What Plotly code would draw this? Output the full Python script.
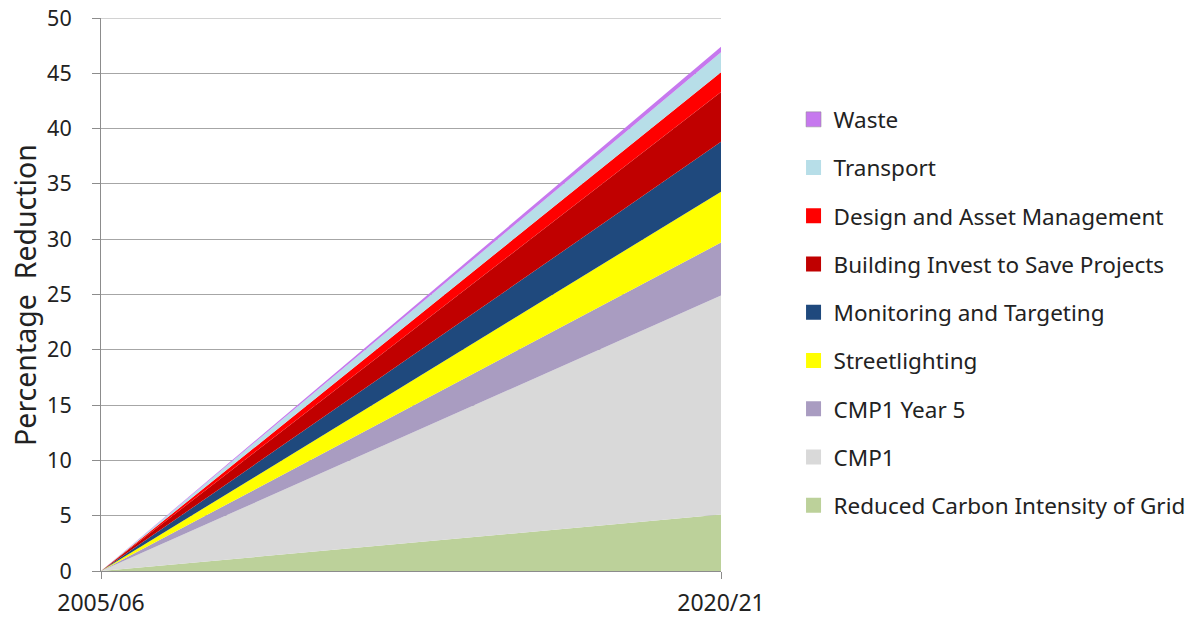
import plotly.graph_objects as go

years = ["2005/06", "2020/21"]
series_names = [
    "Reduced Carbon Intensity of Grid",
    "CMP1",
    "CMP1 Year 5",
    "Streetlighting",
    "Monitoring and Targeting",
    "Building Invest to Save Projects",
    "Design and Asset Management",
    "Transport",
    "Waste",
]
grid_vals = [0, 5.1]
cmp1_vals = [0, 19.8]
cmp1y5_vals = [0, 4.8]
street_vals = [0, 4.6]
monitor_vals = [0, 4.5]
building_vals = [0, 4.5]
design_vals = [0, 1.8]
transport_vals = [0, 1.8]
waste_vals = [0, 0.5]
series_values = [grid_vals, cmp1_vals, cmp1y5_vals, street_vals, monitor_vals,
                 building_vals, design_vals, transport_vals, waste_vals]
colors = ["#BCD19A", "#D9D9D9", "#A99CC1", "#FFFF00", "#1F497D",
          "#C00000", "#FF0000", "#B7DEE8", "#C678EE"]
y_max = 50

fig = go.Figure()
for name, vals, col in zip(series_names, series_values, colors):
    fig.add_trace(go.Scatter(
        x=years, y=vals, name=name, mode="none", stackgroup="one",
        fillcolor=col, showlegend=False,
    ))

# legend entries (square swatches), top to bottom
for name, col in reversed(list(zip(series_names, colors))):
    fig.add_trace(go.Scatter(
        x=[None], y=[None], name=name, mode="markers",
        marker=dict(symbol="square", size=15, color=col,
                    line=dict(width=0.5, color="#8C8C8C") if name == "Waste" else dict(width=0)),
        legendgroup=name, showlegend=True,
    ))

# top gridline (at the edge of the plot area)
fig.add_shape(type="line", xref="x domain", x0=0, x1=1, yref="y",
              y0=y_max, y1=y_max, line=dict(color="#A6A6A6", width=1), layer="below")

font = "Noto Sans, DejaVu Sans, sans-serif"
# page body has an 8px margin, so the figure is offset by (8, 8)
fig.update_layout(
    width=1200, height=622,
    margin=dict(l=93, r=487, t=10, b=59, autoexpand=False),
    plot_bgcolor="white", paper_bgcolor="white",
    font=dict(family=font, size=19, color="#222222"),
    showlegend=True,
    legend=dict(
        x=1.117, y=0.467, xanchor="left", yanchor="middle",
        traceorder="grouped", tracegroupgap=16,
        font=dict(size=22.5, color="#222222"),
        itemwidth=30,
    ),
    xaxis=dict(
        range=[0, 1], showgrid=False, showline=True, linecolor="#8C8C8C",
        linewidth=1, ticks="outside", ticklen=7, tickcolor="#8C8C8C",
        tickfont=dict(size=23), zeroline=False, automargin=False,
        ticklabelstandoff=4, ticklabeloverflow="allow",
    ),
    yaxis=dict(
        range=[0, y_max], dtick=5, showgrid=True, gridcolor="#A6A6A6",
        gridwidth=1, showline=True, linecolor="#8C8C8C", linewidth=1,
        ticks="outside", ticklen=8, tickcolor="#8C8C8C",
        tickfont=dict(size=21.5), zeroline=False, automargin=False,
        ticklabelstandoff=16, ticklabeloverflow="allow",
    ),
    annotations=[dict(
        text="Percentage  Reduction", xref="paper", yref="paper",
        x=-0.1235, y=0.5, xanchor="center", yanchor="middle",
        textangle=-90, showarrow=False, font=dict(size=28.5, color="#222222"),
    )],
)

fig.write_html("out.html")
